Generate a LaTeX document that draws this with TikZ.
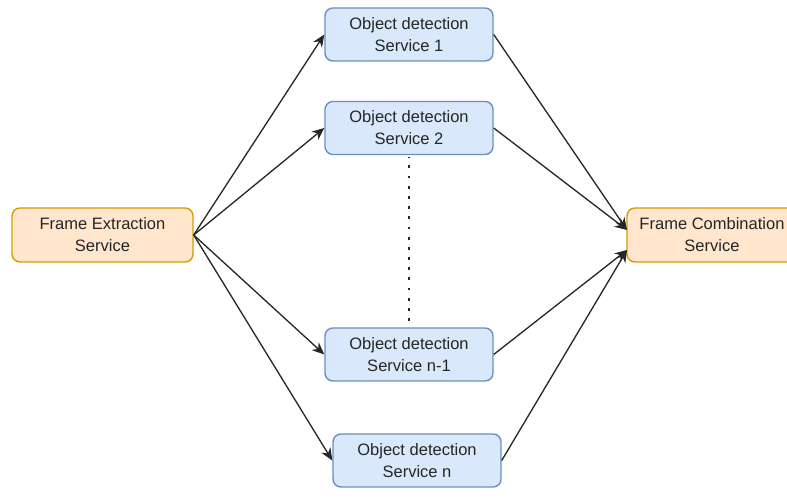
\documentclass[tikz,border=0pt]{standalone}
\usepackage{fontspec}
\setmainfont{Liberation Sans}
\usetikzlibrary{arrows.meta}
\definecolor{bfill}{HTML}{DAE8FC}
\definecolor{bdraw}{HTML}{6C8EBF}
\definecolor{ofill}{HTML}{FFE6CC}
\definecolor{odraw}{HTML}{D79B00}
\begin{document}
\begin{tikzpicture}[x=0.02cm,y=-0.02cm,
  box/.style={draw, line width=0.8pt, rounded corners=4.5pt, minimum width=168*0.02cm, minimum height=53*0.02cm, inner sep=0pt, align=center, font=\fontsize{9.4}{12.5}\selectfont, text=black!85},
  bluebox/.style={box, fill=bfill, draw=bdraw},
  orangebox/.style={box, fill=ofill, draw=odraw},
  arr/.style={-{Stealth[length=7pt,width=6pt]}, line width=0.75pt, black!85}]
\useasboundingbox (0,0) rectangle (787,502);
\node[orangebox, minimum width=181*0.02cm, minimum height=54*0.02cm] (fe) at (102.5,235) {Frame Extraction\\Service};
\node[orangebox, minimum width=170*0.02cm, minimum height=54*0.02cm] (fc) at (712,235) {Frame Combination\\Service};
\node[bluebox] (o1) at (409,34.5) {Object detection\\Service 1};
\node[bluebox] (o2) at (409,128) {Object detection\\Service 2};
\node[bluebox] (on1) at (409,354.5) {Object detection\\Service n-1};
\node[bluebox] (on) at (417,460.5) {Object detection\\Service n};
\coordinate (fein) at (627,230);
\coordinate (fein2) at (627,250);
\draw[arr] (fe.east) -- (o1.west);
\draw[arr] (fe.east) -- (o2.west);
\draw[arr] (fe.east) -- (on1.west);
\draw[arr] (fe.east) -- (on.west);
\draw[arr] (o1.east) -- (fein);
\draw[arr] (o2.east) -- (fein);
\draw[arr] (on1.east) -- (fein2);
\draw[arr] (on.east) -- (fein2);
\draw[line width=1.6pt, dash pattern=on 1.6pt off 4.2pt, dash phase=0.8pt, line cap=butt, black!85] ([yshift=-0.8pt]o2.south) -- (on1.north);
\end{tikzpicture}
\end{document}
